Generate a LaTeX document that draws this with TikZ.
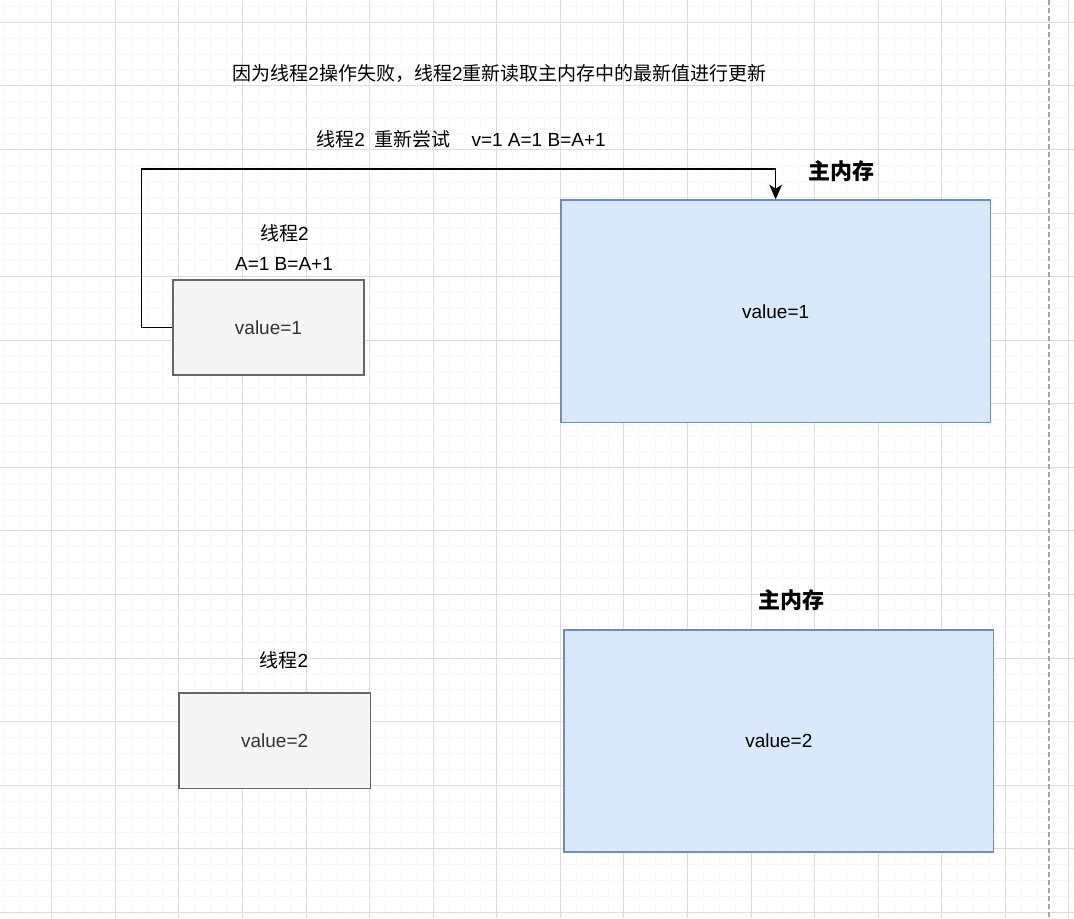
\documentclass[tikz,border=0pt]{standalone}
\usepackage{fontspec}
\setmainfont{Liberation Sans}
\newfontfamily\cjk{Noto Sans CJK SC}
\usetikzlibrary{arrows.meta}
\newcommand{\zh}[1]{{\cjk #1}}
\definecolor{gridmajor}{HTML}{DCDCDC}
\definecolor{gridminor}{HTML}{F6F6F6}
\definecolor{threadfill}{HTML}{F5F5F5}
\definecolor{threadline}{HTML}{666666}
\definecolor{threadtext}{HTML}{333333}
\definecolor{memfill}{HTML}{DAE8FC}
\definecolor{memline}{HTML}{6C8EBF}
\tikzset{
  threadbox/.style={draw=threadline, fill=threadfill, text=threadtext, line width=1.2pt,
    minimum width=143.5pt, minimum height=71.4pt, inner sep=0pt},
  membox/.style={draw=memline, fill=memfill, line width=1.2pt,
    minimum width=322pt, minimum height=166.8pt, inner sep=0pt},
  lbl/.style={inner sep=0pt, font=\fontsize{14.25}{17}\selectfont},
  boldlbl/.style={inner sep=0pt, font=\fontsize{16.5}{19}\selectfont\bfseries},
  flow/.style={draw=black, line width=1.2pt, -{Stealth[length=11pt, width=9.5pt, inset=3pt]}}
}
\begin{document}
\begin{tikzpicture}[x=0.75pt, y=-0.75pt, every node/.append style={font=\fontsize{14.25}{17}\selectfont}]
    \useasboundingbox (0,0) rectangle (1074,918);
    \fill[white] (0,0) rectangle (1074,918);

    % background grid
    \begin{scope}
    \clip (0,0) rectangle (1074,918);
    \foreach \i in {-3,...,64}
      \draw[gridminor, line width=0.75pt] ({51.7+\i*15.895},0) -- ({51.7+\i*15.895},918);
    \foreach \i in {-1,...,56}
      \draw[gridminor, line width=0.75pt] (0,{22.3+\i*15.895}) -- (1074,{22.3+\i*15.895});
    \foreach \i in {0,...,16}
      \draw[gridmajor, line width=0.75pt] ({51.7+\i*63.58},0) -- ({51.7+\i*63.58},918);
    \foreach \i in {0,...,14}
      \draw[gridmajor, line width=0.75pt] (0,{22.3+\i*63.58}) -- (1074,{22.3+\i*63.58});
    \end{scope}
    \draw[gray!70, line width=0.9pt, dash pattern=on 3.5pt off 2.5pt] (1049,0) -- (1049,918);

    % texts at top
    \node[lbl] (title) at (499.5,73) {\zh{因为线程}2\zh{操作失败，线程}2\zh{重新读取主内存中的最新值进行更新}};
    \node[lbl] (retry) at (461,139) {\zh{线程}2\hspace{7pt}\zh{重新尝试}\hspace{16pt}v=1 A=1 B=A+1};

    % first state
    \node[membox] (m1) at (775.65,311.35) {value=1};
    \node[boldlbl] (m1lbl) at (841,171.5) {\zh{主内存}};
    \node[threadbox] (t1) at (268.5,327.65) {value=1};
    \node[lbl] (t1name) at (284.5,233) {\zh{线程}2};
    \node[lbl] (t1expr) at (284,264) {A=1 B=A+1};

    \coordinate (turn) at (141.3,168.7);
    \draw[flow] (t1.west) -| (turn) -| (m1.north);

    % second state
    \node[membox] (m2) at (778.85,741) {value=2};
    \node[boldlbl] (m2lbl) at (791.5,600.5) {\zh{主内存}};
    \node[threadbox] (t2) at (274.65,740.8) {value=2};
    \node[lbl] (t2name) at (284,660.5) {\zh{线程}2};
\end{tikzpicture}
\end{document}
